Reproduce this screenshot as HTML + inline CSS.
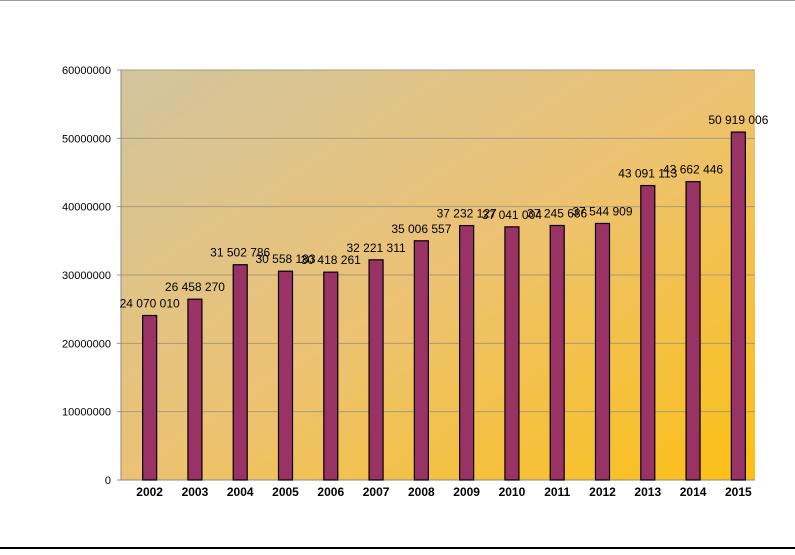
<!DOCTYPE html>
<html><head><meta charset="utf-8"><style>
body{margin:0;background:#fff;width:795px;height:550px;overflow:hidden;font-family:"Liberation Sans",sans-serif}
</style></head><body>
<svg width="795" height="550">
<defs><linearGradient id="bg" x1="0" y1="0" x2="1" y2="1">
<stop offset="0" stop-color="#d2c59f"/><stop offset="0.5" stop-color="#ecc273"/><stop offset="1" stop-color="#fcc013"/></linearGradient></defs>
<line x1="0" y1="0.5" x2="795" y2="0.5" stroke="#999"/>
<line x1="0" y1="548" x2="795" y2="548" stroke="#000" stroke-width="2"/>
<rect x="121" y="70" width="634" height="410" fill="url(#bg)"/>
<g id="grid"></g><g id="bars"></g><g id="labels"></g>
</svg>
<script>
const years=["2002","2003","2004","2005","2006","2007","2008","2009","2010","2011","2012","2013","2014","2015"];
const values=[24070010,26458270,31502786,30558183,30418261,32221311,35006557,37232127,37041004,37245686,37544909,43091113,43662446,50919006];
const valueLabels=["24 070 010","26 458 270","31 502 786","30 558 183","30 418 261","32 221 311","35 006 557","37 232 127","37 041 004","37 245 686","37 544 909","43 091 113","43 662 446","50 919 006"];
const ticks=[0,10000000,20000000,30000000,40000000,50000000,60000000];
const ns="http://www.w3.org/2000/svg";
const L=121,R=755,T=70,B=480,MAX=60000000;
const y=v=>B-(v/MAX)*(B-T);
const step=(R-L)/years.length;
const x=i=>L+(i+0.5)*step+6;
function mk(t,a,p){const e=document.createElementNS(ns,t);for(const k in a)e.setAttribute(k,a[k]);p.appendChild(e);return e;}
const g=document.getElementById('grid'),bg=document.getElementById('bars'),lg=document.getElementById('labels');
ticks.forEach(t=>{
 const l=mk('line',{x1:L-4,x2:R,y1:y(t),y2:y(t),stroke:t===0?'#888':'#a89a78','stroke-width':1},g);
 
 
 const tx=mk('text',{x:L-10,y:y(t)+4,'text-anchor':'end','font-size':11,fill:'#000'},g);
 tx.textContent=String(t);
 
 
});
mk('line',{x1:L,x2:L,y1:T,y2:B,stroke:'#888'},g);
values.forEach((v,i)=>{
 const r=mk('rect',{x:x(i)-7,y:y(v),width:14,height:B-y(v),fill:'#993366',stroke:'#000','stroke-width':1.2},bg);
 
 
 const t=mk('text',{x:x(i),y:y(v)-8,'text-anchor':'middle','font-size':12,fill:'#000'},lg);
 t.textContent=valueLabels[i];
 
 
 const c=mk('text',{x:x(i),y:B+16,'text-anchor':'middle','font-size':12,'font-weight':'bold',fill:'#000'},lg);
 c.textContent=years[i];
 
 
});
</script>
</body></html>
